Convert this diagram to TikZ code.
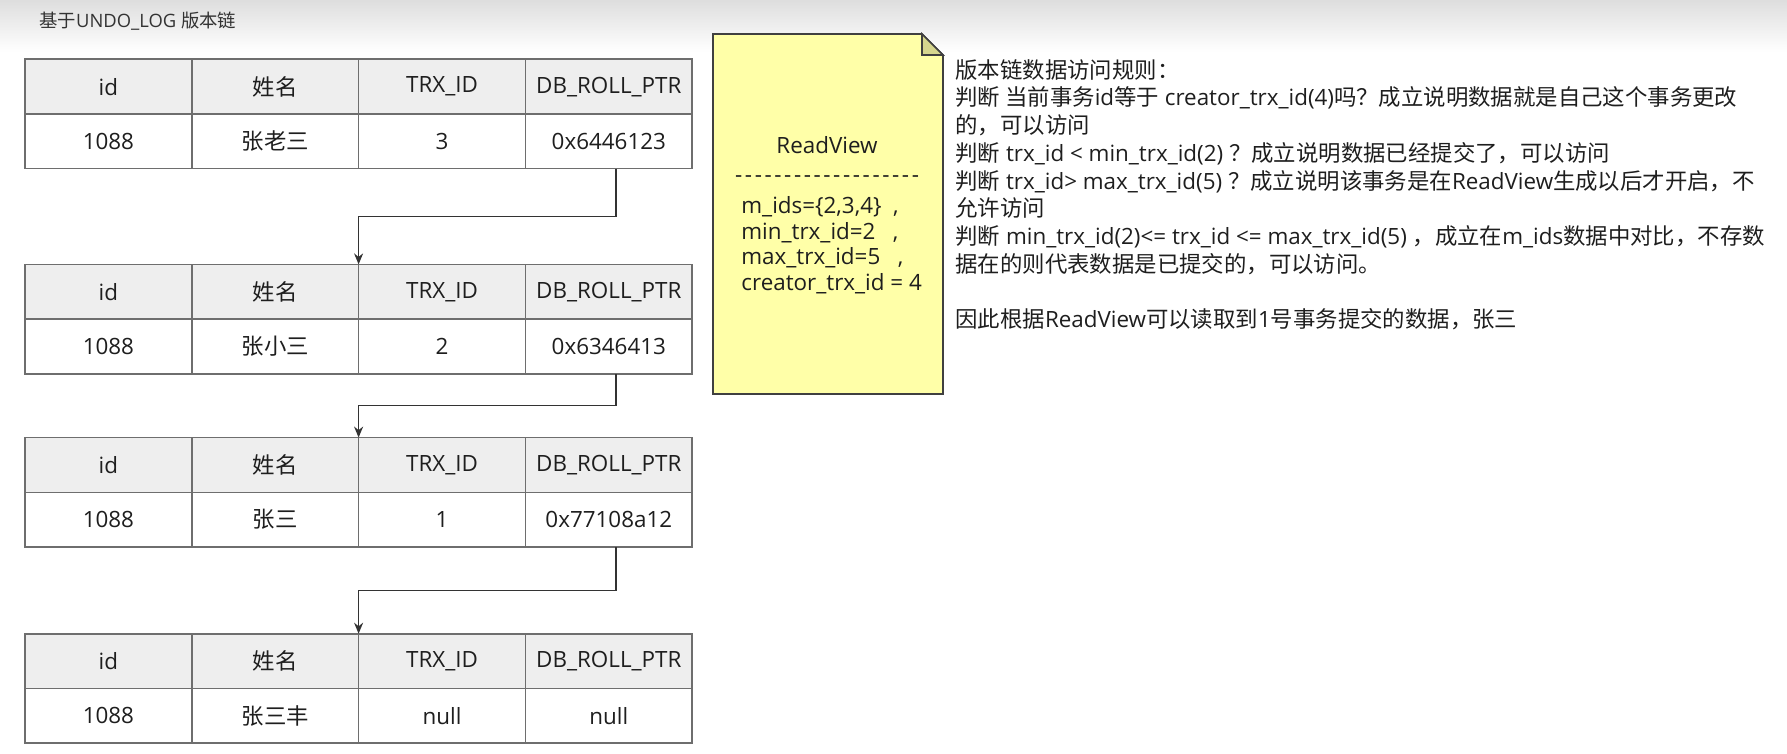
\documentclass[tikz,border=0pt]{standalone}
\usepackage{fontspec}
\setmainfont{Open Sans}
\newfontfamily\zh{Noto Sans CJK SC}
\usetikzlibrary{positioning,calc,arrows.meta}

\definecolor{gridline}{HTML}{6E6E6E}
\definecolor{headfill}{HTML}{EEEEEE}
\definecolor{notefill}{HTML}{FFFFA8}
\definecolor{notefold}{HTML}{D6D68E}
\definecolor{inkgray}{HTML}{1E1E1E}

\tikzset{
	cell/.style={draw=gridline, line width=0.8pt, minimum width=83.4pt, minimum height=27.35pt,
		inner sep=0pt, outer sep=0pt, text=inkgray, font=\fontsize{11.2}{13}\selectfont},
	headcell/.style={cell, fill=headfill},
	datacell/.style={cell, fill=white},
	chain/.style={->, draw=black!80, line width=0.75pt},
	notebox/.style={draw=black!75, fill=notefill, line width=0.8pt},
	notetext/.style={inner sep=0pt, text=inkgray, font=\fontsize{11.2}{12.85}\selectfont},
	rules/.style={inner sep=0pt, align=left, text=inkgray, font=\fontsize{11.2}{13.85}\selectfont},
}

% one row version: header line + data line
\newcommand{\undorow}[5]{%
	\node[headcell, anchor=north west] (#1h1) at (25,#2) {id};
	\node[headcell, right=0pt of #1h1] (#1h2) {\zh 姓名};
	\node[headcell, right=0pt of #1h2] (#1h3) {TRX\_ID};
	\node[headcell, right=0pt of #1h3] (#1h4) {DB\_ROLL\_PTR};
	\node[datacell, below=0pt of #1h1] (#1d1) {1088};
	\node[datacell, below=0pt of #1h2] (#1d2) {\zh #3};
	\node[datacell, below=0pt of #1h3] (#1d3) {#4};
	\node[datacell, below=0pt of #1h4] (#1d4) {#5};
}
\newcommand{\rvdashes}{\foreach \k in {1,...,19}{\ifnum\k>1 \hspace{1.3pt}\fi-}}

\begin{document}
\begin{tikzpicture}[x=0.5pt, y=-0.5pt, >={Stealth[length=5.5pt,width=4.5pt]}]
	\useasboundingbox (0,0) rectangle (1787,754);
	
	% 1. Nen va tieu de
	\shade[top color=black!13, bottom color=white] (0,0) rectangle (1787,52);
	\node[anchor=west, inner sep=0pt, text=black!80, font=\fontsize{9.2}{11}\selectfont] (title) at (39,21)
		{{\zh 基于}UNDO\_LOG {\zh 版本链}};
	
	% 2. Cac phien ban cua dong
	\undorow{t1}{59.3}{张老三}{3}{0x6446123}
	\undorow{t2}{264.4}{张小三}{2}{0x6346413}
	\undorow{t3}{437.6}{张三}{1}{0x77108a12}
	\undorow{t4}{633.7}{张三丰}{null}{null}
	
	% 3. Con tro DB_ROLL_PTR
	\draw[chain] ([xshift=3.5pt]t1d4.south) |- ($([xshift=3.5pt]t1d4.south)!.5!(t2h3.north west)$) -| (t2h3.north west);
	\draw[chain] ([xshift=3.5pt]t2d4.south) |- ($([xshift=3.5pt]t2d4.south)!.5!(t3h3.north west)$) -| (t3h3.north west);
	\draw[chain] ([xshift=3.5pt]t3d4.south) |- ($([xshift=3.5pt]t3d4.south)!.5!(t4h3.north west)$) -| (t4h3.north west);
	
	% 4. Ghi chu ReadView
	\draw[notebox] (713,34) -- (922,34) -- (943,55) -- (943,394) -- (713,394) -- cycle;
	\draw[notebox, fill=notefold] (922,34) -- (922,55) -- (943,55) -- cycle;
	\node[notetext] (rvtitle) at (827,145) {ReadView};
	\node[notetext] (rvline) at (827,179) {\rvdashes};
	\node[notetext, align=left, anchor=north west] (rvbody) at (741,196)
		{m\_ids=\{2,3,4\}\ \ ,\\ min\_trx\_id=2\ \ \ ,\\ max\_trx\_id=5\ \ \ ,\\ creator\_trx\_id = 4};
	
	% 5. Quy tac truy cap
	\node[rules, anchor=north west] (rules) at (955,59) {%
		{\zh 版本链数据访问规则：}\\
		{\zh 判断 当前事务}id{\zh 等于} creator\_trx\_id(4){\zh 吗？成立说明数据就是自己这个事务更改}\\
		{\zh 的，可以访问}\\
		{\zh 判断} trx\_id < min\_trx\_id(2) {\zh ？成立说明数据已经提交了，可以访问}\\
		{\zh 判断} trx\_id> max\_trx\_id(5) {\zh ？成立说明该事务是在}ReadView{\zh 生成以后才开启，不}\\
		{\zh 允许访问}\\
		{\zh 判断} min\_trx\_id(2)<= trx\_id <= max\_trx\_id(5) {\zh ，成立在}m\_ids{\zh 数据中对比，不存数}\\
		{\zh 据在的则代表数据是已提交的，可以访问。}\\[13.85pt]
		{\zh 因此根据}ReadView{\zh 可以读取到}1{\zh 号事务提交的数据，张三}};
	
\end{tikzpicture}
\end{document}
